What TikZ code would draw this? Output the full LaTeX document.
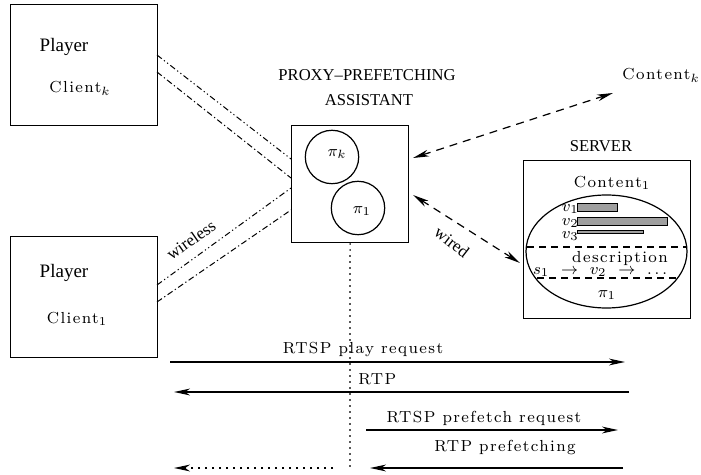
\documentclass[tikz,border=0pt]{standalone}
\usepackage[no-math]{fontspec}
\setmainfont{Liberation Serif}
\newfontfamily\cmfont[LetterSpace=9]{Latin Modern Roman}
\usetikzlibrary{arrows.meta,shapes.geometric}

\tikzset{
  framebox/.style={draw, line width=0.6pt, inner sep=0pt, anchor=north west},
  tmtext/.style={font=\fontsize{9.5}{11}\selectfont, inner sep=0pt},
  smalltm/.style={font=\fontsize{8.5}{10}\selectfont, inner sep=0pt},
  capstext/.style={font=\fontsize{8.3}{10}\selectfont, inner sep=0pt},
  cmtext/.style={font=\cmfont\fontsize{8}{9.5}\selectfont, inner sep=0pt},
  hd/.tip={Stealth[length=8pt,width=3.4pt,inset=2.4pt]},
  msgline/.style={-hd, line width=0.6pt},
  linkline/.style={hd-hd, line width=0.6pt, dash pattern=on 4pt off 3pt},
  wlA/.style={line width=0.5pt, dash pattern=on 3pt off 1.4pt on 0.6pt off 1.4pt on 0.6pt off 1.4pt},
  wlB/.style={line width=0.5pt, dash pattern=on 3pt off 1.4pt on 0.6pt off 1.4pt},
  barbox/.style={draw, line width=0.5pt, fill=gray!75},
  sepline/.style={line width=0.6pt, dash pattern=on 3.5pt off 2.5pt}
}

\begin{document}
\begin{tikzpicture}[x=0.5pt,y=-0.5pt]
\useasboundingbox (0,0) rectangle (701,475);

% clients
\node[framebox, minimum width=73.5pt, minimum height=60.5pt] (clk) at (10,4) {};
\node[tmtext] (plk) at (64,47) {Player};
\node[cmtext] (nmk) at (80,88) {Client$_k$};
\node[framebox, minimum width=73.5pt, minimum height=60.5pt] (cl1) at (10,236) {};
\node[tmtext] (pl1) at (64,273) {Player};
\node[cmtext] (nm1) at (77,319) {Client$_1$};

% proxy
\node[capstext] (ptitle) at (367,75) {PROXY--PREFETCHING};
\node[capstext] (psub) at (369,100) {ASSISTANT};
\node[framebox, minimum width=58.5pt, minimum height=58.5pt] (proxy) at (291,125) {};
\node[circle, draw, line width=0.6pt, minimum size=26.7pt, inner sep=0pt] (pik) at (332,157) {};
\node[cmtext] (pikl) at (337,154) {$\pi_k$};
\node[circle, draw, line width=0.6pt, minimum size=26.7pt, inner sep=0pt] (pi1) at (358,208) {};
\node[cmtext] (pi1l) at (362,211) {$\pi_1$};

% wireless links
\coordinate (ka) at (157,55);
\coordinate (kb) at (157,72);
\coordinate (pa) at (291,159);
\coordinate (pb) at (291,178);
\coordinate (oa) at (157,285);
\coordinate (ob) at (157,302);
\coordinate (pc) at (291,188);
\coordinate (pd) at (291,210);
\draw[wlA] (ka) -- (pa);
\draw[wlB] (kb) -- (pb);
\draw[wlA] (oa) -- (pc);
\draw[wlB] (ob) -- (pd);
\node[smalltm, rotate=35] (wless) at (191,240) {wireless};

% server
\node[capstext] (stitle) at (601,146) {SERVER};
\node[framebox, minimum width=83.5pt, minimum height=79pt] (server) at (523,160) {};
\node[cmtext] (c1) at (612,183) {Content$_1$};
\node[ellipse, draw, line width=0.6pt, minimum width=80.5pt, minimum height=56.5pt, inner sep=0pt] (cont) at (606.5,251.5) {};
\draw[barbox] (577,204) rectangle (617,212);
\draw[barbox] (577,218) rectangle (667,226);
\draw[barbox] (577,231) rectangle (643,234);
\node[cmtext, anchor=east] (v1) at (579,209) {$v_1$};
\node[cmtext, anchor=east] (v2) at (579,223) {$v_2$};
\node[cmtext, anchor=east] (v3) at (579,236) {$v_3$};
\draw[sepline] (527,247) -- (687,247);
\draw[sepline] (537,278) -- (677,278);
\node[cmtext] (desc) at (620,259) {description};
\node[cmtext] (seq) at (600,272) {$s_1\ \rightarrow\ v_2\ \rightarrow\ \ldots$};
\node[cmtext] (pis) at (607,295) {$\pi_1$};

% content k and wired links
\node[cmtext, anchor=west] (ck) at (622,75) {Content$_k$};
\coordinate (pk) at (413,158);
\coordinate (ckp) at (613,93);
\draw[linkline] (pk) -- (ckp);
\coordinate (pw) at (413,195);
\coordinate (sw) at (520,263);
\draw[linkline] (pw) -- (sw);
\node[smalltm, rotate=-38] (wired) at (452,242) {wired};

% time line below the proxy
\coordinate (tl) at (350,470);
\draw[line width=0.6pt, dash pattern=on 0.8pt off 2.2pt] (proxy.south) -- (tl);

% messages
\coordinate (m1a) at (170,362);
\coordinate (m1b) at (625,362);
\draw[msgline] (m1a) -- (m1b);
\node[cmtext] (l1) at (363,350) {RTSP play request};

\coordinate (m2a) at (629,392);
\coordinate (m2b) at (174,392);
\draw[msgline] (m2a) -- (m2b);
\node[cmtext, anchor=west] (l2) at (358,379) {RTP};

\coordinate (m3a) at (366,430);
\coordinate (m3b) at (618,430);
\draw[msgline] (m3a) -- (m3b);
\node[cmtext] (l3) at (484,418) {RTSP prefetch request};

\coordinate (m4a) at (623,468);
\coordinate (m4b) at (370,468);
\draw[msgline] (m4a) -- (m4b);
\node[cmtext] (l4) at (505,448) {RTP prefetching};

\coordinate (m5a) at (333,468);
\coordinate (m5b) at (174,468);
\draw[msgline, dash pattern=on 1pt off 2.5pt] (m5a) -- (m5b);
\end{tikzpicture}
\end{document}
